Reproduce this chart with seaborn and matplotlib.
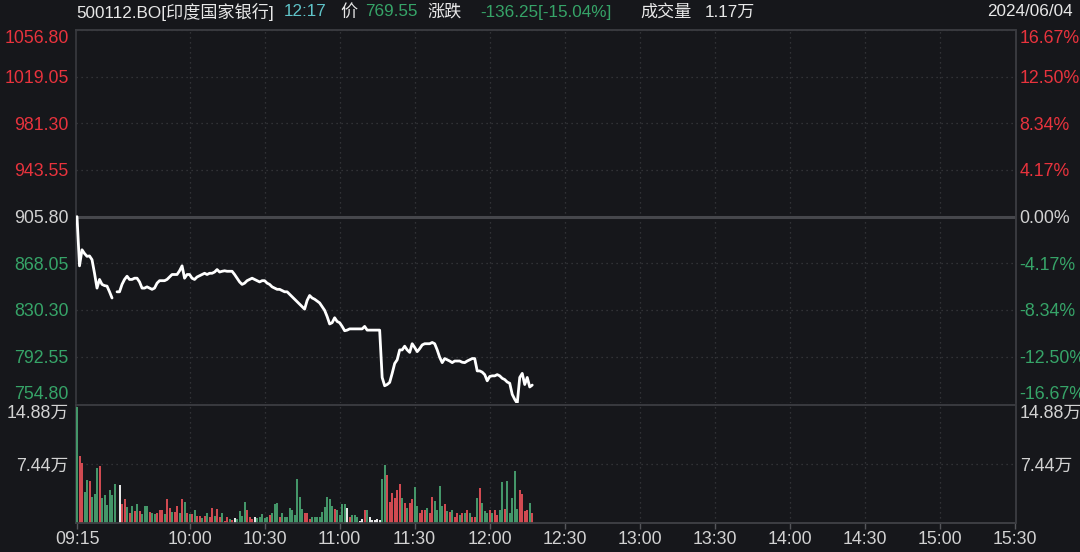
import matplotlib
matplotlib.use("Agg")
import pandas as pd
import seaborn as sns
import matplotlib.pyplot as plt

# ---------------- data ----------------
prev_close = 905.80

# one value per minute from 09:15 (minute 0) to 12:17 (minute 182); None = no trade
price = [
    905.8, 866, 879, 876, 873.7, 874, 871, 860, 848, 855,
    851, 850, 849.6, 845, 840, None, 845, 845, 851, 855,
    857.6, 855, 855, 856, 856, 853, 848, 848, 849, 848,
    847, 848, 852, 854, 854, 854, 855, 857, 859, 859,
    859, 862, 866, 856, 859, 859, 856, 855, 857, 858,
    859, 860, 859, 860, 860, 861, 863, 861, 861.6, 862,
    861.6, 861.6, 861.6, 859, 856, 853, 851, 852, 854, 855,
    856, 855, 854, 853, 854, 854, 852, 851, 849, 848,
    847, 847, 846, 845, 845, 843, 841, 839, 837, 835,
    833, 831, 838, 842, 840, 839, 837.5, 836, 833, 830,
    825, 819, 820, 824, 821, 820, 817, 813.5, 814, 815,
    815, 815, 815, 815, 815, 817, 814, 814, 814, 814,
    814, 814, 775.7, 769, 770, 771.7, 779, 787, 790, 798,
    798, 801, 798, 796, 803, 800, 796.6, 799, 802, 803,
    803, 803, 804, 803, 798, 792, 787.7, 791, 790, 789,
    787.7, 789, 789, 789, 788, 787.7, 789, 790, 791, 791,
    781, 781, 780, 778, 773, 776.5, 777, 777, 778, 777,
    775, 774, 772, 771, 762, 758, 754.8, 775.7, 779, 770,
    775.7, 768, 769.55,
]

# volume per minute, in 万
volume = [
    14.6, 8.5, 7.6, 3.9, 5.4, 5.3, 3.3, 3.7, 6.9, 7.2,
    3.1, 3.5, 2.3, 4.2, 3.5, 4.9, 0.0, 4.8, 2.4, 3.0,
    2.0, 1.2, 2.1, 1.5, 2.4, 1.5, 1.1, 2.1, 2.1, 1.4,
    1.2, 1.1, 1.2, 1.7, 1.7, 1.1, 3.0, 1.9, 1.4, 1.4,
    2.1, 1.3, 3.0, 2.6, 1.2, 1.1, 1.1, 1.7, 0.9, 0.9,
    0.6, 0.9, 1.2, 0.7, 1.9, 0.9, 1.8, 0.8, 1.2, 0.3,
    0.8, 0.5, 0.4, 0.6, 0.5, 1.5, 0.9, 2.7, 1.7, 0.8,
    0.5, 0.7, 0.6, 0.7, 1.1, 0.6, 0.7, 1.0, 1.3, 2.4,
    2.5, 0.8, 1.3, 0.8, 0.8, 1.9, 1.6, 1.0, 5.5, 3.3,
    1.8, 1.3, 1.2, 0.5, 0.7, 0.7, 0.7, 0.7, 1.4, 2.0,
    3.3, 3.0, 2.1, 1.8, 1.6, 1.0, 2.4, 2.4, 1.9, 0.8,
    1.0, 1.0, 0.8, 0.3, 0.5, 1.6, 1.6, 0.7, 0.4, 0.4,
    0.5, 0.4, 5.6, 7.3, 6.0, 2.7, 3.8, 3.2, 4.2, 4.9,
    3.1, 2.5, 1.9, 2.5, 3.0, 4.6, 2.2, 1.2, 1.7, 1.7,
    1.9, 1.2, 3.3, 2.8, 1.6, 4.7, 2.2, 2.4, 1.5, 1.4,
    1.7, 0.8, 1.3, 1.0, 1.3, 1.2, 1.7, 1.2, 0.8, 0.8,
    3.2, 4.4, 2.5, 1.5, 1.3, 1.7, 1.3, 1.7, 1.0, 1.6,
    5.2, 1.8, 5.3, 1.3, 3.2, 6.6, 1.8, 4.1, 3.6, 1.5,
    1.6, 2.5, 1.2,
]

# bar colour per minute: r = up, g = down, w = flat (rows of 10 like above)
direction = list(
    "grrggrgggr" "ggggggwwrr" "grgrgrgggr" "ggrrrgrrgr" "rgrgrgrgrr"
    "grgrrgrrgr" "rgrwggggrr" "rwgggggrgg" "grgggggggg" "grrrgggggg"
    "gggrggggwr" "gggwwrgwww" "wwggrrrrrr" "grgrrggrrr" "grrggggrgr"
    "grrgrgrgrr" "grgggrgrrg" "grgggggrrr" "rgr"
)

time_ticks = [0, 45, 75, 105, 135, 165, 195, 225, 255, 285, 315, 345, 375]
time_labels = ["09:15", "10:00", "10:30", "11:00", "11:30", "12:00", "12:30",
               "13:00", "13:30", "14:00", "14:30", "15:00", "15:30"]

price_ticks = [754.80, 792.55, 830.30, 868.05, 905.80, 943.55, 981.30, 1019.05, 1056.80]
price_labels = ["754.80", "792.55", "830.30", "868.05", "905.80",
                "943.55", "981.30", "1019.05", "1056.80"]
pct_labels = ["-16.67%", "-12.50%", "-8.34%", "-4.17%", "0.00%",
              "4.17%", "8.34%", "12.50%", "16.67%"]

vol_ticks = [7.44, 14.88]
vol_labels = ["7.44万", "14.88万"]

# ---------------- style ----------------
BG = "#16171b"
GRID = "#3a3b40"
RED = "#e8333d"
GREEN = "#36a468"
WHITE = "#e8e8e8"
CYAN = "#5fc3c8"
TXT = "#d2d2d2"
FS = 12.8

sns.set_theme(style="dark")
plt.rcParams["font.family"] = ["Liberation Sans", "Noto Sans CJK SC", "DejaVu Sans"]
plt.rcParams["axes.facecolor"] = BG
plt.rcParams["figure.facecolor"] = BG

n = len(price)
df = pd.DataFrame({"minute": range(n), "price": price,
                   "volume": volume, "dir": direction})
df["seg"] = df["price"].isna().cumsum()
line_df = df.dropna(subset=["price"])

W, H = 1080, 552
fig = plt.figure(figsize=(W / 100, H / 100), dpi=100)
left, right = 75.5, 1015.5
ax = fig.add_axes([left / W, 1 - 403.3 / H, (right - left) / W, (403.3 - 30) / H])
axv = fig.add_axes([left / W, 1 - 523 / H, (right - left) / W, (523 - 405) / H])

xlim = (-0.6, 375.2)
dots = (0, (1, 3))

# ---- price panel ----
sns.lineplot(data=line_df, x="minute", y="price", units="seg", estimator=None,
             color="white", lw=2.0, ax=ax, zorder=5)
ax.set_xlim(*xlim)
ax.set_ylim(price_ticks[0], price_ticks[-1])
for p in price_ticks:
    if p != prev_close:
        ax.axhline(p, color=GRID, lw=0.9, ls=dots, zorder=1)
ax.axhline(prev_close, color="#46474c", lw=2.2, zorder=2)
for t in time_ticks[1:-1]:
    ax.axvline(t, color=GRID, lw=0.9, ls=dots, zorder=1)
ax.set_xticks([])
ax.set_xlabel("")
ax.set_ylabel("")
ax.set_yticks(price_ticks)
ax.set_yticklabels(price_labels)
ax.tick_params(axis="y", length=0, pad=5, labelsize=FS)

ax2 = ax.twinx()
ax2.set_ylim(ax.get_ylim())
ax2.set_yticks(price_ticks)
ax2.set_yticklabels(pct_labels)
ax2.tick_params(axis="y", length=0, pad=3, labelsize=FS)
ax2.grid(False)

for a in (ax, ax2):
    labs = a.get_yticklabels()
    for lab, p in zip(labs, price_ticks):
        if p > prev_close:
            lab.set_color(RED)
        elif p < prev_close:
            lab.set_color(GREEN)
        else:
            lab.set_color(TXT)
    labs[0].set_va("bottom")
    labs[-1].set_va("top")

for a in (ax, ax2):
    for s in a.spines.values():
        s.set_color(GRID)
        s.set_linewidth(1.2)
    a.spines["bottom"].set_visible(False)
ax2.spines["left"].set_visible(False)

# ---- volume panel ----
sns.barplot(data=df, x="minute", y="volume", hue="dir",
            palette={"r": RED, "g": GREEN, "w": WHITE}, hue_order=["r", "g", "w"],
            native_scale=True, dodge=False, width=0.8, errorbar=None,
            legend=False, ax=axv, zorder=5, linewidth=0)
axv.set_xlim(*xlim)
axv.set_ylim(0, vol_ticks[-1])
axv.axhline(vol_ticks[0], color=GRID, lw=0.9, ls=dots, zorder=1)
for t in time_ticks[1:-1]:
    axv.axvline(t, color=GRID, lw=0.9, ls=dots, zorder=1)
axv.set_xlabel("")
axv.set_ylabel("")
axv.set_xticks(time_ticks)
axv.set_xticklabels(time_labels)
axv.tick_params(axis="x", length=4, width=1, color="#55565b", colors=TXT,
                labelsize=FS, pad=2, bottom=True)
axv.set_yticks(vol_ticks)
axv.set_yticklabels(vol_labels)
axv.tick_params(axis="y", length=0, pad=5, labelsize=FS, colors=TXT)

axv2 = axv.twinx()
axv2.set_ylim(axv.get_ylim())
axv2.set_yticks(vol_ticks)
axv2.set_yticklabels(vol_labels)
axv2.tick_params(axis="y", length=0, pad=3, labelsize=FS, colors=TXT)
axv2.grid(False)

for a in (axv, axv2):
    a.get_yticklabels()[-1].set_va("top")
    for s in a.spines.values():
        s.set_color(GRID)
        s.set_linewidth(1.2)
axv.spines["bottom"].set_color("#55565b")
axv.spines["left"].set_zorder(1)
axv2.spines["left"].set_visible(False)

# ---- header ----
hy = 1 - 12 / H
head = [
    (76, "500112.BO[印度国家银行]", WHITE),
    (284, "12:17", CYAN),
    (340, "价", WHITE),
    (365, "769.55", GREEN),
    (427, "涨跌", WHITE),
    (480, "-136.25[-15.04%]", GREEN),
    (640, "成交量", WHITE),
    (705, "1.17万", WHITE),
    (987, "2024/06/04", WHITE),
]
for x, s, c in head:
    fig.text(x / W, hy, s, color=c, fontsize=12.3, va="center", ha="left")

fig.savefig("out.png", dpi=100, facecolor=BG)
